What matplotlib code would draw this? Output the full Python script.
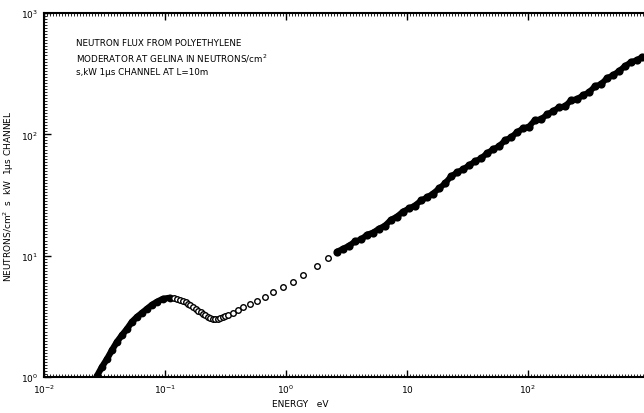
import numpy as np
import matplotlib
matplotlib.use('Agg')
import matplotlib.pyplot as plt
from matplotlib.ticker import FixedLocator, NullFormatter

# Neutron flux (energy in eV, flux per channel)
# rising edge + thermal peak, drawn as a solid band of overlapping circles
energy_low = [0.0274, 0.0301, 0.0332, 0.0365, 0.0401, 0.0442, 0.0485, 0.0533,
              0.0587, 0.0646, 0.0710, 0.0782, 0.0859, 0.0961, 0.110]
flux_low = [1.02, 1.21, 1.41, 1.67, 1.95, 2.22, 2.49, 2.85,
            3.13, 3.38, 3.65, 3.94, 4.17, 4.41, 4.50]

# open circles from the peak over the thermal dip
energy_open = [0.118, 0.126, 0.134, 0.141, 0.148, 0.155, 0.162, 0.170, 0.179,
               0.188, 0.197, 0.206, 0.216, 0.226, 0.237, 0.249, 0.261, 0.274,
               0.287, 0.301, 0.316, 0.332, 0.365, 0.401, 0.442, 0.504,
               0.575, 0.670, 0.781, 0.944, 1.14, 1.38, 1.80, 2.22]
flux_open = [4.47, 4.41, 4.34, 4.25, 4.13, 4.01, 3.90, 3.79, 3.65,
             3.51, 3.41, 3.32, 3.22, 3.13, 3.07, 3.02, 3.00, 3.02,
             3.07, 3.13, 3.19, 3.25, 3.38, 3.58, 3.79, 4.01,
             4.25, 4.58, 5.04, 5.54, 6.10, 6.97, 8.27, 9.62]

# epithermal part, dense noisy band
energy_high = [2.64, 2.96, 3.32, 3.72, 4.17, 4.67, 5.24, 5.87, 6.58, 7.38,
               8.26, 9.27, 10.4, 11.6, 13.1, 14.6, 16.4, 18.4, 20.6, 23.1,
               25.9, 29.0, 32.5, 36.5, 40.9, 45.8, 51.4, 57.5, 64.6, 72.4,
               81.1, 91.0, 102, 114, 128, 144, 161, 180, 202, 227,
               254, 285, 319, 358, 401, 450, 504, 565, 634, 710,
               796, 875]
flux_high = [10.8, 11.4, 12.1, 13.1, 13.6, 14.9, 15.5, 16.7, 17.7, 19.8,
             21.0, 23.1, 24.5, 25.9, 28.5, 30.2, 32.5, 35.8, 39.4, 45.0,
             48.5, 51.4, 55.5, 59.8, 63.4, 69.7, 75.2, 79.6, 89.2, 94.4,
             104, 112, 116, 131, 133, 146, 155, 167, 170, 191,
             195, 210, 222, 249, 259, 290, 307, 332, 365, 394,
             409, 433]

xtick_vals = [1e-2, 1e-1, 1e0, 1e1, 1e2]
xtick_labels = ['$10^{-2}$', '$10^{-1}$', '$10^{0}$', '$10$', '$10^{2}$']
ytick_vals = [1e0, 1e1, 1e2, 1e3]
ytick_labels = ['$10^{0}$', '$10^{1}$', '$10^{2}$', '$10^{3}$']

plt.rcParams['font.family'] = 'DejaVu Sans'
plt.rcParams['mathtext.fontset'] = 'dejavusans'

fig = plt.figure(figsize=(6.44, 4.14), dpi=100)
ax = fig.add_axes([44 / 644, 1 - 378 / 414, 1 - 44 / 644, 364 / 414])

ax.plot(energy_low, flux_low, color='black', lw=4.5, marker='o', ms=4.2,
        mfc='black', mec='black', mew=1.4, solid_capstyle='round')
ax.plot(energy_open, flux_open, linestyle='none', marker='o', ms=4.0,
        mfc='white', mec='black', mew=1.0)
ax.plot(energy_high, flux_high, color='black', lw=4.2, marker='o', ms=4.5,
        mfc='black', mec='black', mew=1.4, solid_capstyle='round')

ax.set_xscale('log')
ax.set_yscale('log')
ax.set_xlim(1e-2, 910)
ax.set_ylim(1e0, 1e3)

ax.xaxis.set_major_locator(FixedLocator(xtick_vals))
ax.set_xticklabels(xtick_labels, fontsize=6.5)
ax.yaxis.set_major_locator(FixedLocator(ytick_vals))
ax.set_yticklabels(ytick_labels, fontsize=6.5)

# ruler-like fine ticks along both axes, as on the original plot
fine_x = 10 ** np.arange(-2, 3, 0.025)
fine_y = 10 ** np.arange(0, 3, 0.025)
ax.xaxis.set_minor_locator(FixedLocator(fine_x))
ax.yaxis.set_minor_locator(FixedLocator(fine_y))
ax.xaxis.set_minor_formatter(NullFormatter())
ax.yaxis.set_minor_formatter(NullFormatter())
ax.tick_params(which='major', direction='in', length=5, width=1.0, pad=4,
               top=True, right=False)
ax.tick_params(which='minor', direction='in', length=2.5, width=0.6,
               top=True, right=False)

for side in ['left', 'bottom', 'top']:
    ax.spines[side].set_linewidth(1.5)
ax.spines['right'].set_visible(False)

note = ("NEUTRON FLUX FROM POLYETHYLENE\n"
        "MODERATOR AT GELINA IN NEUTRONS/cm$^2$\n"
        "s,kW 1\u03bcs CHANNEL AT L=10m")
ax.text(0.053, 0.93, note, transform=ax.transAxes, fontsize=6.3,
        va='top', ha='left', linespacing=1.45)

ax.set_ylabel('NEUTRONS/cm$^2$  s  kW  1\u03bcs CHANNEL', fontsize=6.5,
              labelpad=4)
fig.text(300 / 644, 1 - 405 / 414, 'ENERGY   eV', fontsize=6.5,
         ha='center', va='center')

fig.savefig('out.png', dpi=100)
